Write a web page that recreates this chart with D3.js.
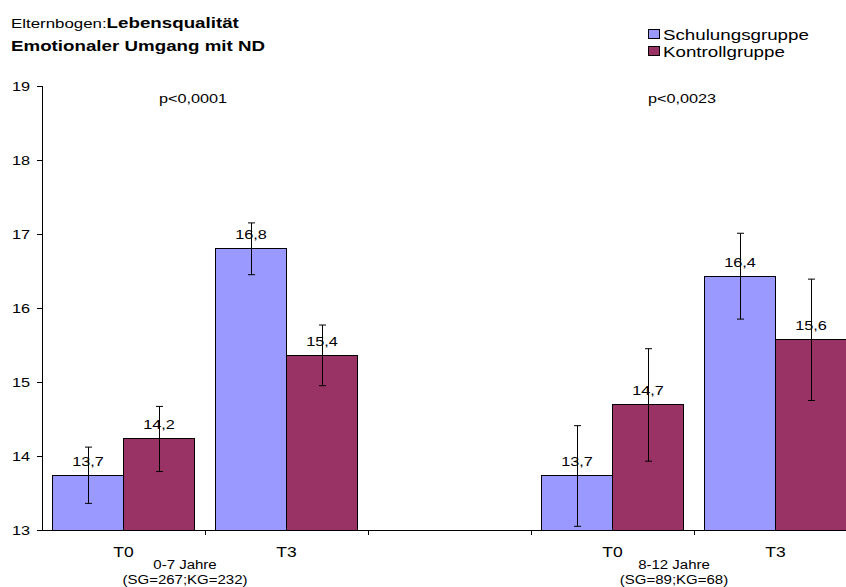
<!DOCTYPE html>
<html><head><meta charset="utf-8">
<script src="https://cdn.jsdelivr.net/npm/d3@7"></script>
<style>
body{margin:0;background:#fff}
svg{display:block}
text{font-family:"Liberation Sans",Arial,Helvetica,sans-serif;fill:#000}
</style>
</head><body>
<svg id="chart" width="846" height="587"></svg>
<script>
// ---- data ----
const categories = ["T0", "T3", "", "T0", "T3"];
const seriesNames = ["Schulungsgruppe", "Kontrollgruppe"];
const schulung = [13.74, 16.80, null, 13.73, 16.43];
const kontroll = [14.23, 15.36, null, 14.69, 15.57];
const schulungErr = [0.38, 0.35, null, 0.68, 0.58];
const kontrollErr = [0.44, 0.41, null, 0.76, 0.82];
const schulungLabels = ["13,7", "16,8", null, "13,7", "16,4"];
const kontrollLabels = ["14,2", "15,4", null, "14,7", "15,6"];
const yTicks = [13, 14, 15, 16, 17, 18, 19];
const groupLabels = [["0-7 Jahre", "(SG=267;KG=232)"], ["8-12 Jahre", "(SG=89;KG=68)"]];
const groupAt = [1, 4];          // category boundary the group caption sits near
const pValues = ["p<0,0001", "p<0,0023"];
const colors = ["#9999FF", "#993366"];

// ---- layout ----
const SX = 1.25; // horizontal stretch of the original rendering
const svg = d3.select("#chart");
const plot = {left: 42, top: 86, bottom: 530, right: 857};

const x = d3.scaleBand().domain(d3.range(categories.length))
  .range([plot.left, plot.right]).paddingInner(0).paddingOuter(0);
const xs = d3.scaleBand().domain(seriesNames).range([0, x.bandwidth()])
  .paddingInner(0).paddingOuter(0.15);
const y = d3.scaleLinear().domain([13, 19]).range([plot.bottom, plot.top]);

function stext(g, str, px, py, size, opts = {}) {
  const t = g.append("text")
    .attr("transform", `translate(${px},${py}) scale(${SX},1)`)
    .attr("font-size", size)
    .attr("text-anchor", opts.anchor || "start")
    .text(str);
  if (opts.weight) t.attr("font-weight", opts.weight);
  return t;
}

// ---- bars ----
const rows = categories.map((c, i) => ({
  i,
  vals: [
    {s: seriesNames[0], v: schulung[i], e: schulungErr[i], l: schulungLabels[i], c: colors[0]},
    {s: seriesNames[1], v: kontroll[i], e: kontrollErr[i], l: kontrollLabels[i], c: colors[1]}
  ].filter(d => d.v != null)
}));

const gBars = svg.append("g");
rows.forEach(r => {
  r.vals.forEach(d => {
    const bx = x(r.i) + xs(d.s);
    gBars.append("rect")
      .attr("x", bx).attr("y", y(d.v))
      .attr("width", xs.bandwidth()).attr("height", y(13) - y(d.v))
      .attr("fill", d.c).attr("stroke", "#000").attr("stroke-width", 1)
      .attr("shape-rendering", "crispEdges");
  });
});

// ---- axes ----
const yAxis = d3.axisLeft(y).tickValues(yTicks).tickSize(5).tickPadding(7).tickFormat(d3.format("d"));
const gy = svg.append("g").attr("transform", `translate(${plot.left},0)`).call(yAxis);
gy.select(".domain").attr("stroke", "#000").attr("shape-rendering", "crispEdges");
gy.selectAll(".tick line").attr("stroke", "#000").attr("shape-rendering", "crispEdges");
gy.selectAll(".tick text").attr("font-size", 13).attr("font-family", null)
  .attr("x", -12 / SX).attr("transform", `scale(${SX},1)`).attr("fill", "#000");

const xAxis = d3.axisBottom(x).tickSize(0).tickPadding(17).tickFormat(i => categories[i]);
const gx = svg.append("g").attr("transform", `translate(0,${plot.bottom})`).call(xAxis);
gx.select(".domain").attr("stroke", "#000").attr("shape-rendering", "crispEdges");
gx.selectAll(".tick text").attr("font-size", 14).attr("font-family", null).attr("fill", "#000")
  .attr("transform", `scale(${SX},1)`);
d3.range(1, categories.length).forEach(i => {
  gx.append("line").attr("x1", x(i)).attr("x2", x(i)).attr("y1", 0).attr("y2", 5)
    .attr("stroke", "#000").attr("shape-rendering", "crispEdges");
});

// ---- error bars ----
const gErr = svg.append("g").attr("stroke", "#000").attr("stroke-width", 1);
rows.forEach(r => {
  r.vals.forEach(d => {
    const cx = Math.round(x(r.i) + xs(d.s) + xs.bandwidth() / 2) + 0.5;
    const y1 = y(d.v + d.e), y2 = y(d.v - d.e);
    gErr.append("line").attr("x1", cx).attr("x2", cx).attr("y1", y1).attr("y2", y2);
    gErr.append("line").attr("x1", cx - 3.5).attr("x2", cx + 3.5).attr("y1", y1).attr("y2", y1);
    gErr.append("line").attr("x1", cx - 3.5).attr("x2", cx + 3.5).attr("y1", y2).attr("y2", y2);
  });
});

// ---- data labels ----
const gLab = svg.append("g");
rows.forEach(r => {
  r.vals.forEach(d => {
    const cx = x(r.i) + xs(d.s) + xs.bandwidth() / 2;
    stext(gLab, d.l, cx, y(d.v) - 9.5, 13, {anchor: "middle"});
  });
});

// ---- p-values ----
groupAt.forEach((b, k) => {
  stext(svg, pValues[k], x(b) - 12, 103, 13, {anchor: "middle"});
});

// ---- group captions ----
groupAt.forEach((b, k) => {
  stext(svg, groupLabels[k][0], x(b) - 20, 569, 12, {anchor: "middle"});
  stext(svg, groupLabels[k][1], x(b) - 20, 584, 12, {anchor: "middle"});
});

// ---- title ----
const t1 = svg.append("text").attr("transform", `translate(11,28) scale(${SX},1)`).attr("font-size", 15);
t1.append("tspan").attr("font-size", 13.5).text("Elternbogen:");
t1.append("tspan").attr("font-weight", "bold").text("Lebensqualität");
stext(svg, "Emotionaler Umgang mit ND", 11, 51, 15, {weight: "bold"});

// ---- legend ----
const leg = svg.append("g");
seriesNames.forEach((s, k) => {
  const ly = 29 + k * 17;
  leg.append("rect").attr("x", 648.5).attr("y", ly + 0.5).attr("width", 11).attr("height", 9)
    .attr("fill", colors[k]).attr("stroke", "#000").attr("stroke-width", 1);
  stext(leg, s, 663, ly + 11, 15);
});
</script>
</body></html>
